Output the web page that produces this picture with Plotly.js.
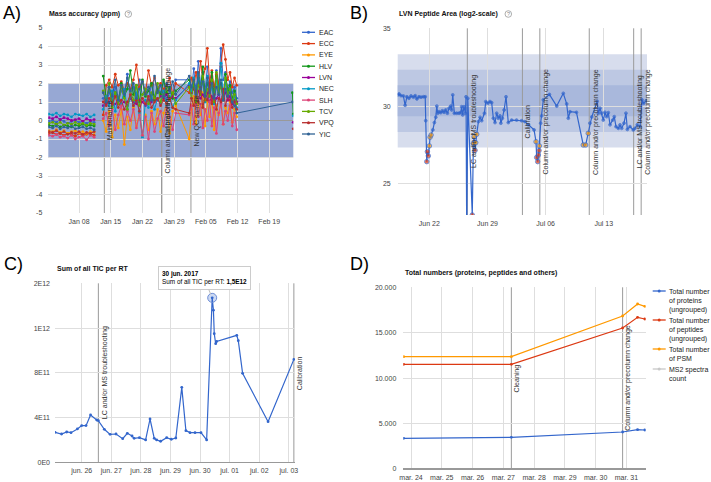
<!DOCTYPE html>
<html><head><meta charset="utf-8">
<script src="https://cdn.plot.ly/plotly-3.0.1.min.js"></script>
<style>html,body{margin:0;padding:0;background:#fff;}#chart{width:711px;height:482px;}</style>
</head><body><div id="chart"></div>
<script>
// ================= Panel A : Mass accuracy (ppm) =================
const aSeries = ['EAC','ECC','EYE','HLV','LVN','NEC','SLH','TCV','VPQ','YIC'];
const aColors = ['#3366cc','#dc3912','#ff9900','#109618','#990099','#0099c6','#dd4477','#66aa00','#b82e2e','#316395'];
const aConnectEnd = ['YIC'];
const aSeg1Dates = ['2017-01-01 08:00','2017-01-02 04:00','2017-01-03 00:00','2017-01-03 20:00','2017-01-04 16:00','2017-01-05 12:00','2017-01-06 08:00','2017-01-07 04:00','2017-01-08 00:00','2017-01-08 20:00','2017-01-09 16:00','2017-01-10 12:00','2017-01-11 08:00'];
const aGap1Date = '2017-01-12 08:00';
const aSeg2Dates = ['2017-01-13 08:00','2017-01-14 00:00','2017-01-14 16:00','2017-01-15 08:00','2017-01-16 00:00','2017-01-16 16:00','2017-01-17 08:00','2017-01-18 00:00','2017-01-18 16:00','2017-01-19 08:00','2017-01-20 00:00','2017-01-20 16:00','2017-01-21 08:00','2017-01-22 00:00','2017-01-22 16:00','2017-01-23 08:00','2017-01-24 00:00','2017-01-24 16:00','2017-01-25 08:00','2017-01-26 00:00','2017-01-26 16:00','2017-01-27 08:00','2017-01-28 00:00','2017-01-28 16:00','2017-01-29 08:00'];
const aSeg3Dates = ['2017-02-01 08:00','2017-02-01 20:00','2017-02-02 08:00','2017-02-02 20:00','2017-02-03 08:00','2017-02-03 20:00','2017-02-04 08:00','2017-02-04 20:00','2017-02-05 08:00','2017-02-05 20:00','2017-02-06 08:00','2017-02-06 20:00','2017-02-07 08:00','2017-02-07 20:00','2017-02-08 08:00','2017-02-08 20:00','2017-02-09 08:00','2017-02-09 20:00','2017-02-10 08:00','2017-02-10 20:00','2017-02-11 08:00','2017-02-11 20:00'];
const aGap2Date = '2017-02-18 00:00';
const aEndDates = ['2017-02-24 03:00','2017-02-24 07:00'];
// values per series, in aSeries order
const aSeg1Values = [
  [-0.05,0.0,-0.1,0.05,-0.05,-0.15,-0.05,0.0,-0.1,-0.05,-0.15,-0.05,-0.1],
  [-0.7,-0.65,-0.75,-0.7,-0.8,-0.7,-0.75,-0.85,-0.7,-0.8,-0.75,-0.7,-0.8],
  [-0.55,-0.6,-0.5,-0.65,-0.55,-0.7,-0.6,-0.55,-0.65,-0.6,-0.7,-0.6,-0.65],
  [-0.25,-0.3,-0.2,-0.35,-0.25,-0.3,-0.35,-0.25,-0.3,-0.2,-0.3,-0.25,-0.3],
  [0.15,0.1,0.2,0.05,0.15,0.1,0.0,0.05,0.1,-0.05,0.1,0.0,0.05],
  [0.35,0.3,0.4,0.25,0.35,0.3,0.2,0.35,0.3,0.25,0.35,0.2,0.3],
  [-0.8,-0.85,-0.75,-0.9,-0.85,-0.95,-0.8,-1.0,-0.9,-0.85,-1.05,-0.8,-0.9],
  [-0.15,-0.1,-0.2,-0.1,-0.25,-0.15,-0.2,-0.1,-0.2,-0.15,-0.25,-0.15,-0.2],
  [-0.6,-0.65,-0.55,-0.7,-0.6,-0.75,-0.65,-0.7,-0.6,-0.75,-0.65,-0.7,-0.6],
  [-0.35,-0.4,-0.3,-0.45,-0.35,-0.4,-0.3,-0.45,-0.4,-0.35,-0.45,-0.4,-0.5]
];
const aSeg2Values = [
  [1.2,0.9,1.5,1.1,1.8,1.0,1.6,1.3,2.5,1.2,1.8,1.0,2.2,1.4,1.7,1.1,2.0,1.3,1.8,1.5,2.1,1.0,1.6,1.2,2.2],
  [0.3,1.9,2.2,1.8,2.5,1.9,2.1,1.6,2.0,1.7,2.2,3.0,1.8,2.1,1.5,2.7,1.9,2.3,1.6,2.0,1.7,1.9,2.3,1.4,2.0],
  [0.0,-0.6,0.5,-0.9,0.3,-0.4,0.6,-1.3,0.2,-0.5,0.7,-0.3,0.4,-0.8,0.3,-0.5,0.5,-0.2,0.6,-0.6,0.4,0.9,-0.7,0.5,0.8],
  [2.4,1.2,1.8,0.9,1.5,1.1,2.0,1.3,1.7,2.7,1.4,1.9,1.0,2.2,1.3,1.6,2.0,1.1,1.7,1.4,2.2,1.5,1.8,1.2,1.6],
  [0.8,0.9,1.0,0.8,0.9,1.1,0.9,1.0,0.8,1.2,1.0,0.9,1.1,1.0,0.8,1.1,1.0,1.2,1.1,1.3,1.2,1.4,1.1,1.3,1.2],
  [0.6,1.3,0.8,1.6,0.5,1.2,0.9,1.7,0.6,1.3,0.8,1.5,0.4,-0.9,1.1,0.7,1.4,0.6,1.2,0.9,1.6,0.8,1.3,0.7,1.1],
  [0.1,0.4,-0.3,0.6,-0.5,0.3,0.8,-0.2,0.5,0.0,0.6,-0.4,0.3,-0.8,0.2,-1.0,0.4,-0.6,0.1,0.5,-0.3,0.7,0.2,-0.5,0.4],
  [1.6,1.0,2.0,0.7,1.5,0.9,1.8,1.2,0.6,1.6,1.1,1.9,0.8,1.4,1.7,0.9,1.5,1.2,2.0,1.0,1.4,1.8,1.1,1.5,0.9],
  [1.0,0.8,1.2,0.9,1.3,0.7,1.1,0.6,1.0,1.4,0.8,1.1,0.5,1.2,0.9,1.3,0.7,1.0,1.2,0.8,1.1,0.9,1.2,0.7,0.6],
  [1.5,1.0,1.8,1.3,2.2,1.1,1.9,1.4,2.3,1.6,2.0,1.2,1.7,2.1,1.4,1.8,1.1,2.4,1.5,1.9,1.3,2.0,1.6,2.1,1.4]
];
const aSeg3Values = [
  [2.2,1.7,2.8,1.5,3.2,2.0,2.6,1.6,2.9,1.8,2.4,1.5,2.7,1.9,3.9,2.2,2.6,1.6,2.1,1.5,1.8,1.2],
  [1.5,2.3,1.8,2.6,1.9,3.2,2.2,2.8,3.9,2.1,2.7,1.8,2.5,2.0,2.9,4.1,3.3,2.2,2.6,1.8,2.3,1.9],
  [-1.0,0.6,1.3,-0.2,0.9,0.3,1.5,-0.3,1.0,0.2,1.2,-0.5,0.8,0.3,1.1,-0.2,0.7,0.4,1.0,-0.1,0.6,0.2],
  [2.2,1.5,1.9,1.2,2.3,1.6,2.9,1.3,2.0,1.5,2.6,1.2,2.4,1.7,2.0,1.1,2.5,1.6,1.9,1.2,1.6,1.0],
  [1.9,1.5,1.7,1.3,1.6,1.2,1.4,1.1,1.5,1.0,1.3,0.9,1.2,1.4,1.0,1.3,1.5,1.1,1.3,0.9,1.1,1.0],
  [2.0,1.6,2.3,1.2,2.5,1.4,2.1,1.0,2.4,1.3,1.8,0.9,2.2,1.5,3.1,1.2,2.0,1.4,1.7,1.0,1.3,0.7],
  [0.3,0.8,-0.2,1.1,0.2,0.9,-0.4,0.6,0.0,1.0,-0.3,0.7,-0.7,0.4,0.9,-0.2,0.5,0.0,0.8,-0.3,0.4,-0.5],
  [1.8,1.2,2.1,1.0,1.9,1.4,2.4,1.1,1.7,1.3,2.2,1.0,2.6,1.5,1.8,1.2,2.3,1.4,1.7,1.1,1.4,0.9],
  [0.4,1.2,0.8,1.6,1.0,1.8,0.7,1.3,1.1,2.0,0.9,1.4,0.6,1.2,1.0,1.7,0.8,1.3,1.1,0.7,1.0,0.6],
  [2.4,1.8,2.2,1.4,2.6,1.7,2.1,1.3,2.3,1.5,2.0,1.2,1.8,1.4,2.2,1.1,1.7,1.3,1.5,1.0,0.8,0.4]
];
const aEndValues = [
  [null,null],[null,null],[null,null],[1.5,0.35],[null,-0.1],
  [null,0.25],[null,null],[null,null],[null,-0.45],[1.0,null]
];
const aYTicks = [-5,-4,-3,-2,-1,0,1,2,3,4,5];
const aLimit = 2;
const aEventDates = ['2017-01-13 14:00','2017-01-26 05:00','2017-01-26 07:00','2017-02-01 17:00'];
const aEventLabels = ['Maintenance','Calibration','Column and/or precolumn change','New QC sample'];

// ================= Panel B : LVN Peptide Area =================
const bDates = ['2017-06-18 05:00','2017-06-18 08:30','2017-06-18 14:00','2017-06-18 21:00','2017-06-19 02:00','2017-06-19 07:00','2017-06-19 13:00','2017-06-19 19:00','2017-06-20 02:00','2017-06-20 07:00','2017-06-20 12:00','2017-06-20 18:00','2017-06-21 00:00','2017-06-21 07:00','2017-06-21 12:00','2017-06-21 13:30','2017-06-21 16:30','2017-06-21 18:15','2017-06-21 21:00','2017-06-22 00:00','2017-06-22 02:00','2017-06-22 05:00','2017-06-22 10:00','2017-06-22 14:30','2017-06-22 18:30','2017-06-22 21:30','2017-06-23 00:00','2017-06-23 04:00','2017-06-23 09:00','2017-06-23 13:40','2017-06-23 18:30','2017-06-23 23:15','2017-06-24 04:00','2017-06-24 09:00','2017-06-24 13:40','2017-06-24 16:30','2017-06-24 19:30','2017-06-25 00:15','2017-06-25 07:00','2017-06-25 13:40','2017-06-25 18:30','2017-06-25 21:20','2017-06-26 00:15','2017-06-26 04:00','2017-06-26 08:00','2017-06-26 10:00','2017-06-26 12:00','2017-06-26 15:00','2017-06-27 04:00','2017-06-27 07:10','2017-06-27 09:10','2017-06-27 12:00','2017-06-27 14:00','2017-06-27 16:50','2017-06-27 21:40','2017-06-28 02:30','2017-06-28 07:10','2017-06-28 15:00','2017-06-28 19:00','2017-06-29 00:45','2017-06-29 07:10','2017-06-29 12:00','2017-06-29 16:50','2017-06-29 21:40','2017-06-30 02:30','2017-06-30 07:10','2017-06-30 12:00','2017-06-30 14:30','2017-06-30 19:00','2017-07-01 00:00','2017-07-01 05:30','2017-07-01 12:00','2017-07-01 21:40','2017-07-02 12:00','2017-07-03 02:30','2017-07-03 12:00','2017-07-03 21:40','2017-07-04 14:30','2017-07-04 20:10','2017-07-04 22:00','2017-07-05 01:00','2017-07-05 03:00','2017-07-05 04:50','2017-07-05 05:45','2017-07-05 09:30','2017-07-05 12:30','2017-07-05 17:15','2017-07-06 10:50','2017-07-07 08:00','2017-07-08 03:00','2017-07-08 12:45','2017-07-08 17:30','2017-07-08 22:20','2017-07-09 17:00','2017-07-10 12:40','2017-07-10 19:40','2017-07-11 03:00','2017-07-11 08:00','2017-07-11 13:10','2017-07-12 04:50','2017-07-12 08:25','2017-07-12 13:10','2017-07-12 18:00','2017-07-12 22:30','2017-07-13 03:20','2017-07-13 08:25','2017-07-13 13:00','2017-07-13 18:00','2017-07-14 01:40','2017-07-14 06:15','2017-07-14 11:15','2017-07-14 18:00','2017-07-14 22:50','2017-07-15 03:40','2017-07-15 10:20','2017-07-15 16:00','2017-07-15 20:00','2017-07-16 03:40','2017-07-16 13:10','2017-07-16 18:00','2017-07-17 00:45','2017-07-17 08:40','2017-07-17 14:25','2017-07-17 19:10','2017-07-18 02:25'];
const bValues = [30.72,30.78,30.67,30.65,30.05,30.6,30.5,30.65,30.57,30.67,30.46,30.6,30.57,30.6,30.6,29.06,26.43,27.07,26.8,27.44,28.0,28.14,28.47,28.94,29.28,30.0,29.54,29.64,29.58,29.7,29.6,29.75,29.54,29.86,30.0,29.75,30.72,29.54,29.54,29.54,29.58,29.96,29.43,29.96,29.54,30.6,21.5,30.5,23.0,27.6,28.04,27.16,27.65,28.19,29.0,29.28,29.06,29.54,30.29,30.18,30.29,30.22,29.22,28.94,29.54,29.22,29.37,28.9,29.22,29.75,30.6,28.94,29.1,29.1,29.06,29.0,28.8,28.47,27.71,26.7,26.43,26.86,27.14,27.44,28.9,29.37,30.4,30.75,30.0,30.82,30.14,29.22,29.64,29.6,27.5,27.5,28.25,28.9,29.3,30.3,29.54,29.86,29.54,29.1,29.6,29.32,29.58,28.8,29.1,29.32,28.68,28.57,28.79,28.57,28.9,29.54,28.5,28.68,28.47,28.57,28.8,28.68,30.4,30.18,30.35];
const bMean = 30.34, bSd = 1.0;
const bEventDates = ['2017-06-26 13:40','2017-07-03 04:50','2017-07-05 07:10','2017-07-11 06:00','2017-07-16 14:20','2017-07-17 12:00'];
const bEventLabels = ['LC and/or MS troubleshooting','Calibration','Column and/or precolumn change','Column and/or precolumn change','LC and/or MS troubleshooting','Column and/or precolumn change'];

// ================= Panel C : Sum of all TIC per RT =================
const cDates = ['2017-06-25 02:24','2017-06-25 07:40','2017-06-25 11:50','2017-06-25 15:20','2017-06-25 20:30','2017-06-26 00:00','2017-06-26 03:30','2017-06-26 07:10','2017-06-26 12:10','2017-06-26 13:30','2017-06-26 18:20','2017-06-26 23:00','2017-06-27 03:50','2017-06-27 09:15','2017-06-27 13:00','2017-06-27 16:50','2017-06-27 18:30','2017-06-27 22:50','2017-06-28 03:50','2017-06-28 07:25','2017-06-28 10:50','2017-06-28 12:45','2017-06-28 16:00','2017-06-28 20:55','2017-06-29 00:40','2017-06-29 04:20','2017-06-29 09:10','2017-06-29 12:30','2017-06-29 15:50','2017-06-29 19:55','2017-06-30 00:45','2017-06-30 05:20','2017-06-30 09:50','2017-06-30 10:50','2017-06-30 11:30','2017-06-30 12:40','2017-06-30 13:25','2017-07-01 05:45','2017-07-01 07:00','2017-07-01 10:30','2017-07-02 07:10','2017-07-03 04:05'];
const cValues = [2.68e11,2.53e11,2.71e11,2.65e11,2.98e11,3.28e11,3.28e11,4.23e11,3.78e11,3.72e11,2.95e11,2.50e11,2.53e11,2.11e11,2.59e11,2.35e11,2.14e11,2.20e11,2.00e11,3.87e11,2.14e11,2.00e11,1.88e11,2.20e11,2.06e11,2.17e11,6.70e11,2.83e11,2.65e11,2.65e11,2.65e11,2.00e11,1.47e12,1.36e12,1.15e12,1.06e12,1.08e12,1.135e12,1.087e12,7.95e11,3.63e11,9.2e11];
const cTickVals = [0,4e11,8e11,1.2e12,1.6e12];
const cTickText = ['0E0','4E11','8E11','1E12','2E12'];
const cDayVals = ['2017-06-26','2017-06-27','2017-06-28','2017-06-29','2017-06-30','2017-07-01','2017-07-02','2017-07-03'];
const cDayText = ['jun. 26','jun. 27','jun. 28','jun. 29','jun. 30','jul. 01','jul. 02','jul. 03'];
const cEventDates = ['2017-06-26 13:30','2017-07-03 04:05'];
const cEventLabels = ['LC and/or MS troubleshooting','Calibration'];
const cTipIndex = 32;
const cTipText = '<b>30 jun. 2017</b><br>Sum of all TIC per RT: <b>1,5E12</b>';

// ================= Panel D : Total numbers =================
const dDates = ['2017-03-23 18:15','2017-03-27 06:15','2017-03-30 21:00','2017-03-31 08:40','2017-03-31 14:20'];
const dProteins = [3376,3486,4073,4330,4293];
const dPeptides = [11521,11521,15520,16694,16510];
const dPSM = [12365,12365,16841,18162,17905];
const dSeriesNames = ['Total number<br>of proteins<br>(ungrouped)','Total number<br>of peptides<br>(ungrouped)','Total number<br>of PSM','MS2 spectra<br>count'];
const dColors = ['#3366cc','#dc3912','#ff9900','#c8c8c8'];
const dTickVals = [0,5000,10000,15000,20000];
const dTickText = ['0','5.000','10.000','15.000','20.000'];
const dDayVals = ['2017-03-24','2017-03-25','2017-03-26','2017-03-27','2017-03-28','2017-03-29','2017-03-30','2017-03-31'];
const dDayText = ['mar. 24','mar. 25','mar. 26','mar. 27','mar. 28','mar. 29','mar. 30','mar. 31'];
const dEventDates = ['2017-03-27 06:15','2017-03-30 21:00'];
const dEventLabels = ['Cleaning','Column and/or precolumn change'];

// ================= build =================
const W = 711, H = 482;
const P = px => px / W;
const Q = py => 1 - py / H;
const FONT = 'Liberation Sans, Arial, sans-serif';
const tickFont = {family: FONT, size: 7, color: '#444'};
const GRID = '#dedede';
const EVENT = '#9a9a9a';

const data = [];
const shapes = [];
const annotations = [];

// ---- A traces
aSeries.forEach((name, i) => {
  const x = [], y = [];
  aSeg1Dates.forEach((d, j) => { x.push(d); y.push(aSeg1Values[i][j]); });
  x.push(aGap1Date); y.push(null);
  aSeg2Dates.forEach((d, j) => { x.push(d); y.push(aSeg2Values[i][j]); });
  aSeg3Dates.forEach((d, j) => { x.push(d); y.push(aSeg3Values[i][j]); });
  if (!aConnectEnd.includes(name)) { x.push(aGap2Date); y.push(null); }
  aEndDates.forEach((d, j) => { x.push(d); y.push(aEndValues[i][j]); });
  data.push({type: 'scatter', mode: 'lines+markers', name, x, y, xaxis: 'x', yaxis: 'y',
    line: {color: aColors[i], width: 1}, marker: {size: 2.8, color: aColors[i]}, hoverinfo: 'skip'});
});
// A band
shapes.push({type: 'rect', layer: 'below', xref: 'x domain', yref: 'y', x0: 0, x1: 1, y0: -aLimit, y1: aLimit,
  fillcolor: '#97a8d4', line: {width: 0}});
// A legend (manual)
aSeries.forEach((name, i) => {
  const py = 32.3 + i * 11.3;
  shapes.push({type: 'line', xref: 'paper', yref: 'paper', x0: P(302), x1: P(315), y0: Q(py), y1: Q(py), line: {color: aColors[i], width: 1.3}});
  shapes.push({type: 'circle', xref: 'paper', yref: 'paper', x0: P(307), x1: P(310), y0: Q(py + 1.5), y1: Q(py - 1.5), fillcolor: aColors[i], line: {width: 0}});
  annotations.push({xref: 'paper', yref: 'paper', x: P(317), y: Q(py), xanchor: 'left', yanchor: 'middle', showarrow: false,
    text: name, font: {family: FONT, size: 7, color: '#222'}});
});

// ---- B
const bColorsPts = bValues.map(v => v < bMean - 3 * bSd ? '#dc3912' : (v < bMean - 2 * bSd ? '#ff9900' : '#3366cc'));
const bSizes = bValues.map(v => v < bMean - 2 * bSd ? 4.5 : 2.8);
data.push({type: 'scatter', mode: 'lines+markers', x: bDates, y: bValues, xaxis: 'x2', yaxis: 'y2',
  line: {color: '#3366cc', width: 1.2}, marker: {size: bSizes, color: bColorsPts}, hoverinfo: 'skip'});
[[3, '#d7dded'], [2, '#bdc8e3'], [1, '#a9b8dc']].forEach(([k, c]) => {
  shapes.push({type: 'rect', layer: 'below', xref: 'x2 domain', yref: 'y2', x0: 0, x1: 1,
    y0: bMean - k * bSd, y1: bMean + k * bSd, fillcolor: c, line: {width: 0}});
});

// ---- C
data.push({type: 'scatter', mode: 'lines+markers', x: cDates, y: cValues, xaxis: 'x3', yaxis: 'y3',
  line: {color: '#3366cc', width: 1.2}, marker: {size: 2.8, color: '#3366cc'}, hoverinfo: 'skip'});
data.push({type: 'scatter', mode: 'markers', x: [cDates[cTipIndex]], y: [cValues[cTipIndex]], xaxis: 'x3', yaxis: 'y3',
  marker: {size: 9, color: 'rgba(51,102,204,0.25)', line: {color: '#6f8fd6', width: 1}}, hoverinfo: 'skip'});
annotations.push({xref: 'x3', yref: 'y3', x: cDates[cTipIndex], y: cValues[cTipIndex], ax: -8, ay: -19.5,
  showarrow: true, arrowhead: 0, arrowwidth: 1, arrowcolor: '#bbb', standoff: 4,
  text: cTipText, align: 'left', bgcolor: '#fff', bordercolor: '#ccc', borderwidth: 1, borderpad: 3,
  font: {family: FONT, size: 6.4, color: '#000'}});

// ---- D
[dProteins, dPeptides, dPSM].forEach((vals, i) => {
  data.push({type: 'scatter', mode: 'lines+markers', x: dDates, y: vals, xaxis: 'x4', yaxis: 'y4',
    line: {color: dColors[i], width: 1.2}, marker: {size: 2.8, color: dColors[i]}, hoverinfo: 'skip'});
});
// D legend (manual)
let dPy = 291;
dSeriesNames.forEach((name, i) => {
  shapes.push({type: 'line', xref: 'paper', yref: 'paper', x0: P(652.7), x1: P(665.7), y0: Q(dPy), y1: Q(dPy), line: {color: dColors[i], width: 1.3}});
  shapes.push({type: 'circle', xref: 'paper', yref: 'paper', x0: P(657.7), x1: P(660.7), y0: Q(dPy + 1.5), y1: Q(dPy - 1.5), fillcolor: dColors[i], line: {width: 0}});
  annotations.push({xref: 'paper', yref: 'paper', x: P(667), y: Q(dPy - 5.5), xanchor: 'left', yanchor: 'top', align: 'left', showarrow: false,
    text: name, font: {family: FONT, size: 7, color: '#222'}});
  const lines = name.split('<br>').length;
  dPy += lines * 9 + 2;
});

// ---- event lines & labels
function addEvents(dates, labels, xa, ya) {
  dates.forEach((d, i) => {
    shapes.push({type: 'line', layer: 'below', xref: xa, yref: ya + ' domain', x0: d, x1: d, y0: 0, y1: 1, line: {color: EVENT, width: 1}});
    annotations.push({xref: xa, yref: ya + ' domain', x: d, y: 0.5, xanchor: 'left', yanchor: 'middle', textangle: -90,
      showarrow: false, text: labels[i], font: {family: FONT, size: 7, color: '#333'}});
  });
}
addEvents(aEventDates, aEventLabels, 'x', 'y');
addEvents(bEventDates, bEventLabels, 'x2', 'y2');
addEvents(cEventDates, cEventLabels, 'x3', 'y3');
addEvents(dEventDates, dEventLabels, 'x4', 'y4');

// ---- titles, help icons, panel letters
function title(text, px, py) {
  annotations.push({xref: 'paper', yref: 'paper', x: P(px), y: Q(py), xanchor: 'left', yanchor: 'middle', showarrow: false,
    text: '<b>' + text + '</b>', font: {family: FONT, size: 7, color: '#111'}});
}
function help(px, py) {
  shapes.push({type: 'circle', xref: 'paper', yref: 'paper', x0: P(px - 3.3), x1: P(px + 3.3), y0: Q(py + 3.3), y1: Q(py - 3.3), line: {color: '#9a9a9a', width: 0.8}});
  annotations.push({xref: 'paper', yref: 'paper', x: P(px), y: Q(py), xanchor: 'center', yanchor: 'middle', showarrow: false,
    text: '?', font: {family: FONT, size: 5.5, color: '#888'}});
}
function letter(text, px, py) {
  annotations.push({xref: 'paper', yref: 'paper', x: P(px), y: Q(py), xanchor: 'left', yanchor: 'middle', showarrow: false,
    text: text, font: {family: FONT, size: 18, color: '#000'}});
}
title('Mass accuracy (ppm)', 46.7, 14); help(128.3, 14);
title('LVN Peptide Area (log2-scale)', 397, 14); help(508.3, 14);
title('Sum of all TIC per RT', 55, 269.3);
title('Total numbers (proteins, peptides and others)', 403, 273.3);
letter('A)', 0.5, 13.4); letter('B)', 348, 13.4); letter('C)', 1.5, 264.3); letter('D)', 348, 264.3);

// ---- axes
const baseX = {type: 'date', showgrid: true, gridcolor: GRID, gridwidth: 1, ticks: '', showline: false, zeroline: false,
  tickfont: tickFont, ticklabelstandoff: 3, fixedrange: true};
const baseY = {showgrid: true, gridcolor: GRID, gridwidth: 1, ticks: '', showline: false, tickfont: tickFont, fixedrange: true};
const DAY = 86400000;

const layout = {
  width: W, height: H, margin: {l: 0, r: 0, t: 0, b: 0}, paper_bgcolor: '#fff', plot_bgcolor: 'rgba(0,0,0,0)',
  showlegend: false, font: {family: FONT, size: 7, color: '#444'},
  xaxis: Object.assign({}, baseX, {domain: [P(48.3), P(293.3)], anchor: 'y', range: ['2017-01-01 05:00', '2017-02-24 07:30'],
    tick0: '2017-01-08', dtick: 7 * DAY, tickformat: '%b %d'}),
  yaxis: Object.assign({}, baseY, {domain: [Q(213), Q(28)], anchor: 'x', range: [-5, 5], tickvals: aYTicks, ticktext: aYTicks.map(String),
    zeroline: true, zerolinecolor: '#999', zerolinewidth: 1.5, ticklabelstandoff: 5}),
  xaxis2: Object.assign({}, baseX, {domain: [P(397.7), P(647)], anchor: 'y2', range: ['2017-06-18 04:30', '2017-07-18 04:50'],
    tick0: '2017-06-22', dtick: 7 * DAY, tickformat: '%b %d'}),
  yaxis2: Object.assign({}, baseY, {domain: [Q(215), Q(28.3)], anchor: 'x2', range: [23, 35], tickvals: [25, 30, 35],
    zeroline: false, ticklabelstandoff: 6}),
  xaxis3: Object.assign({}, baseX, {domain: [P(55), P(295)], anchor: 'y3', range: ['2017-06-25 02:20', '2017-07-03 05:00'],
    tickvals: cDayVals, ticktext: cDayText}),
  yaxis3: Object.assign({}, baseY, {domain: [Q(462.3), Q(283.3)], anchor: 'x3', range: [0, 1.6e12], tickvals: cTickVals, ticktext: cTickText,
    zeroline: true, zerolinecolor: '#999', zerolinewidth: 1.2, ticklabelstandoff: 4}),
  xaxis4: Object.assign({}, baseX, {domain: [P(403.3), P(645.7)], anchor: 'y4', range: ['2017-03-23 18:00', '2017-03-31 15:00'],
    tickvals: dDayVals, ticktext: dDayText}),
  yaxis4: Object.assign({}, baseY, {domain: [Q(469), Q(287.3)], anchor: 'x4', range: [0, 20000], tickvals: dTickVals, ticktext: dTickText,
    zeroline: true, zerolinecolor: '#999', zerolinewidth: 1.2, ticklabelstandoff: 6}),
  shapes, annotations
};

Plotly.newPlot('chart', data, layout, {staticPlot: true, displayModeBar: false});
</script>
</body></html>
